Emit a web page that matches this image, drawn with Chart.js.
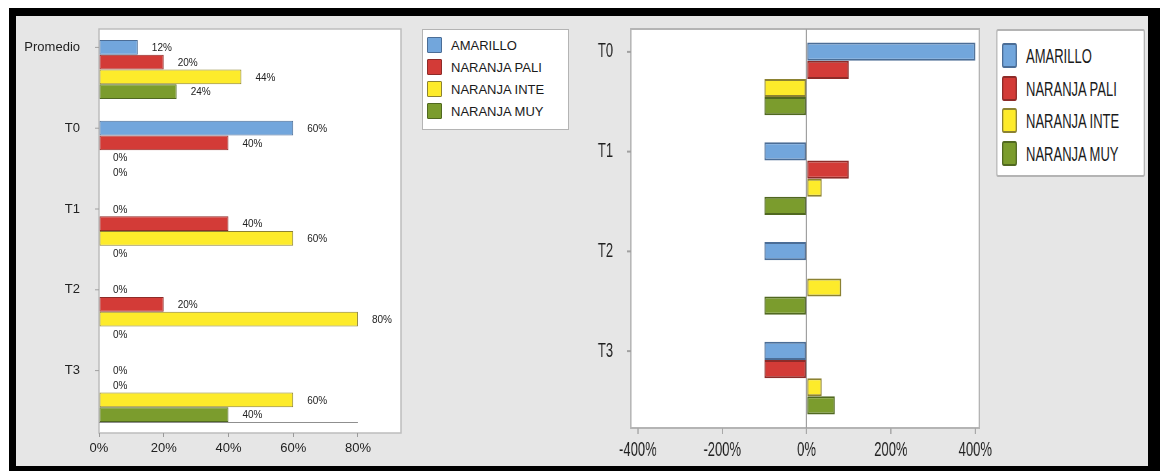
<!DOCTYPE html>
<html>
<head>
<meta charset="utf-8">
<script src="https://cdn.jsdelivr.net/npm/chart.js@4.4.0/dist/chart.umd.min.js"></script>
<style>
  html, body { margin: 0; padding: 0; background: #fff; width: 1162px; height: 471px; overflow: hidden;
    font-family: "Liberation Sans", Arial, sans-serif; }
  #frame { position: absolute; left: 9px; top: 8px; width: 1132px; height: 450px; background: #e6e6e6;
    border-style: solid; border-color: #000; border-width: 8px 12px 8px 7px; }
  #left { position: absolute; left: 16px; top: 16px; }
  .legend { position: absolute; background: #fff; box-sizing: border-box; color: #1a1a1a; }
  .legend .item { position: absolute; white-space: nowrap; }
  .legend .sw { position: absolute; left: 0; top: 0; box-sizing: border-box; }
  #legendLeft { left: 422px; top: 29px; width: 147px; height: 101px; border: 1px solid #b4b4b4; font-size: 13px; }
  #rightWrap { position: absolute; left: 560px; top: 16px; width: 905px; height: 450px;
    transform-origin: 0 0; transform: scaleX(0.65); }
  #right { position: absolute; left: 0; top: 0; }
  #legendRight { left: 671px; top: 13px; width: 229px; height: 148px; border: 2px solid #b4b4b4;
    border-radius: 3px; font-size: 20px; }
</style>
</head>
<body>
<div id="frame"></div>
<canvas id="left" width="404" height="450"></canvas>
<div id="legendLeft" class="legend"></div>
<div id="rightWrap">
  <canvas id="right" width="905" height="450"></canvas>
  <div id="legendRight" class="legend"></div>
</div>
<script>
// Share of each colour class per sampling time (%)
const leftCategories = ['Promedio', 'T0', 'T1', 'T2', 'T3'];
const seriesNames = ['AMARILLO', 'NARANJA PALI', 'NARANJA INTE', 'NARANJA MUY'];
const amarillo    = [12, 60, 0, 0, 0];
const naranjaPali = [20, 40, 40, 20, 0];
const naranjaInte = [44, 0, 60, 80, 60];
const naranjaMuy  = [24, 0, 0, 0, 40];
const leftTickValues = [0, 20, 40, 60, 80];

// Change of each class against the average (%)
const rightCategories = ['T0', 'T1', 'T2', 'T3'];
const amarilloVar = [400, -100, -100, -100];
const paliVar     = [100, 100, 0, -100];
const inteVar     = [-100, 36, 82, 36];
const muyVar      = [-100, -100, -100, 67];
const rightTickValues = [-400, -200, 0, 200, 400];

const fills = ['#72a6dc', '#d33b37', '#fdeb2b', '#7b9c2d'];
const edges = ['#4b6d96', '#8e2b28', '#8c8232', '#506820'];

Chart.defaults.font.family = '"Liberation Sans", Arial, sans-serif';
Chart.defaults.color = '#1f1f1f';

// white plotting box with a grey frame
const plotBox = {
  id: 'plotBox',
  beforeDraw(chart, args, opts) {
    const { ctx, chartArea: a } = chart;
    ctx.save();
    ctx.fillStyle = '#fff';
    ctx.fillRect(a.left, a.top, a.right - a.left, a.bottom - a.top);
    ctx.strokeStyle = opts.color;
    ctx.lineWidth = opts.width;
    ctx.strokeRect(a.left, a.top, a.right - a.left, a.bottom - a.top);
    ctx.restore();
  }
};

// small marks beside each category label
const catTicks = {
  id: 'catTicks',
  afterDraw(chart, args, opts) {
    const s = chart.scales.y, ctx = chart.ctx;
    const off = s.options.ticks.labelOffset;
    ctx.save();
    ctx.strokeStyle = opts.color;
    ctx.lineWidth = opts.width;
    s.ticks.forEach((t, i) => {
      const y = s.getPixelForTick(i) + off;
      ctx.beginPath();
      ctx.moveTo(s.right - opts.len, y);
      ctx.lineTo(s.right, y);
      ctx.stroke();
    });
    ctx.restore();
  }
};

// value labels at the end of each bar
const valueLabels = {
  id: 'valueLabels',
  afterDatasetsDraw(chart, args, opts) {
    if (!opts.show) return;
    const ctx = chart.ctx;
    ctx.save();
    ctx.font = opts.font;
    ctx.fillStyle = opts.color;
    ctx.textAlign = 'left';
    ctx.textBaseline = 'middle';
    chart.data.datasets.forEach((ds, i) => {
      chart.getDatasetMeta(i).data.forEach((el, j) => {
        ctx.fillText(ds.data[j] + '%', el.x + opts.gap, el.y + 1);
      });
    });
    ctx.restore();
  }
};

// axis line under the last group, spanning the labelled range
const baseLine = {
  id: 'baseLine',
  afterDatasetsDraw(chart, args, opts) {
    if (!opts.show) return;
    const n = chart.data.datasets.length;
    const els = chart.getDatasetMeta(n - 1).data;
    const last = els[els.length - 1];
    const x = chart.scales.x;
    const y = Math.round(last.y + last.height / 2) + 0.5;
    const ctx = chart.ctx;
    ctx.save();
    ctx.strokeStyle = opts.color;
    ctx.lineWidth = 1;
    ctx.beginPath();
    ctx.moveTo(x.getPixelForValue(leftTickValues[0]), y);
    ctx.lineTo(x.getPixelForValue(leftTickValues[leftTickValues.length - 1]), y);
    ctx.stroke();
    ctx.restore();
  }
};

function makeDatasets(series, bw) {
  return series.map((d, i) => ({
    label: seriesNames[i], data: d,
    backgroundColor: fills[i], borderColor: edges[i], borderWidth: bw, borderSkipped: false,
    categoryPercentage: 0.73, barPercentage: 1
  }));
}

// fixed axis sizes, without the extra room Chart.js keeps for edge labels
function fixSize(prop, size) {
  return s => {
    s[prop] = size;
    s.paddingTop = 0; s.paddingBottom = 0; s.paddingLeft = 0; s.paddingRight = 0;
  };
}

new Chart(document.getElementById('left'), {
  type: 'bar',
  data: { labels: leftCategories, datasets: makeDatasets([amarillo, naranjaPali, naranjaInte, naranjaMuy], 1) },
  options: {
    indexAxis: 'y', responsive: false, animation: false,
    layout: { padding: { top: 13, right: 19, left: 0, bottom: 0 } },
    plugins: {
      legend: { display: false }, tooltip: { enabled: false },
      plotBox: { color: '#bdbdbd', width: 1.5 },
      catTicks: { color: '#a0a0a0', width: 1, len: 4 },
      valueLabels: { show: true, gap: 14, font: '10px "Liberation Sans", Arial, sans-serif', color: '#222' },
      baseLine: { show: true, color: '#8f8f8f' }
    },
    scales: {
      x: {
        min: 0, max: 93.3,
        afterBuildTicks: s => { s.ticks = leftTickValues.map(v => ({ value: v })); },
        afterFit: fixSize('height', 33),
        border: { display: false },
        grid: { drawOnChartArea: false, tickLength: 4, color: '#9a9a9a' },
        ticks: { padding: 4, color: '#222', font: { size: 13 }, callback: v => v + '%' }
      },
      y: {
        afterFit: fixSize('width', 83),
        border: { display: false },
        grid: { display: false, drawTicks: false },
        ticks: { padding: 19, labelOffset: -22, color: '#222', font: { size: 13 } }
      }
    }
  },
  plugins: [plotBox, catTicks, valueLabels, baseLine]
});

new Chart(document.getElementById('right'), {
  type: 'bar',
  data: { labels: rightCategories, datasets: makeDatasets([amarilloVar, paliVar, inteVar, muyVar], 2) },
  options: {
    indexAxis: 'y', responsive: false, animation: false,
    layout: { padding: { top: 13, right: 260, left: 0, bottom: 0 } },
    plugins: {
      legend: { display: false }, tooltip: { enabled: false },
      plotBox: { color: '#b4b4b4', width: 2 },
      catTicks: { color: '#a0a0a0', width: 2, len: 6 },
      valueLabels: { show: false },
      baseLine: { show: false }
    },
    scales: {
      x: {
        min: -416.6, max: 409.5,
        afterBuildTicks: s => { s.ticks = rightTickValues.map(v => ({ value: v })); },
        afterFit: fixSize('height', 38),
        border: { display: false },
        grid: {
          drawOnChartArea: true, tickLength: 6, lineWidth: 2, tickColor: '#a8a8a8',
          color: c => (c.tick && c.tick.value === 0 ? '#a0a0a0' : 'rgba(0,0,0,0)')
        },
        ticks: { padding: 4, color: '#1f1f1f', font: { size: 20 }, callback: v => v + '%' }
      },
      y: {
        afterFit: fixSize('width', 109),
        border: { display: false },
        grid: { display: false, drawTicks: false },
        ticks: { padding: 27.5, labelOffset: -27, color: '#1f1f1f', font: { size: 20 } }
      }
    }
  },
  plugins: [plotBox, catTicks, valueLabels, baseLine]
});

// legend boxes built from the series names
function buildLegend(id, o) {
  const box = document.getElementById(id);
  seriesNames.forEach((name, i) => {
    const item = document.createElement('div');
    item.className = 'item';
    item.style.left = o.left + 'px';
    item.style.top = (o.top + i * o.pitch) + 'px';
    item.style.height = o.h + 'px';
    const sw = document.createElement('div');
    sw.className = 'sw';
    sw.style.width = o.w + 'px';
    sw.style.height = o.h + 'px';
    sw.style.background = fills[i];
    sw.style.border = o.bw + 'px solid ' + edges[i];
    sw.style.borderRadius = o.r + 'px';
    const tx = document.createElement('span');
    tx.textContent = name;
    tx.style.position = 'absolute';
    tx.style.left = o.textLeft + 'px';
    tx.style.top = o.textTop + 'px';
    tx.style.lineHeight = o.h + 'px';
    item.appendChild(sw);
    item.appendChild(tx);
    box.appendChild(item);
  });
}
buildLegend('legendLeft', { left: 4, top: 7, pitch: 22, w: 15, h: 16, bw: 1, r: 1, textLeft: 24, textTop: 1 });
buildLegend('legendRight', { left: 7, top: 12, pitch: 32.5, w: 23, h: 25, bw: 2, r: 3, textLeft: 37, textTop: 1 });
</script>
</body>
</html>
